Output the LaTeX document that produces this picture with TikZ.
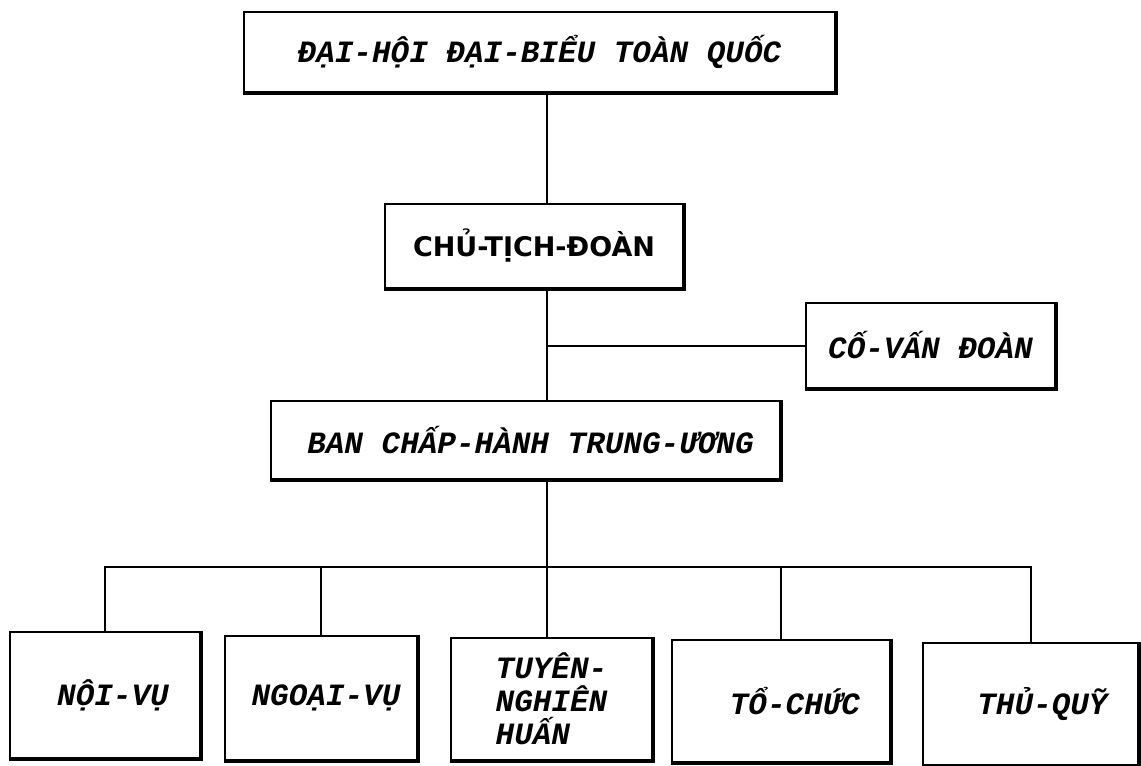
\documentclass[tikz,border=0pt]{standalone}
\usepackage{fontspec}
\newfontfamily\twfont{Liberation Mono}
\newfontfamily\gothfont{DejaVu Sans}
\tikzset{
  box/.style={draw=black, line width=2pt, inner sep=0pt, align=center,
    font=\twfont\bfseries\itshape\fontsize{31}{33}\selectfont},
  gothbox/.style={box, font=\gothfont\bfseries\fontsize{27}{33}\selectfont},
  conn/.style={draw=black, line width=2pt},
  heavy/.style={draw=black, line width=3.6pt, line cap=rect},
}
\begin{document}
\begin{tikzpicture}[x=1pt,y=-1pt]
\fill[white] (0,0) rectangle (1141,766);
\useasboundingbox (0,0) rectangle (1141,766);

\node[box, minimum width=591pt, minimum height=80pt] (top) at (539.5,52) {ĐẠI-HỘI ĐẠI-BIỂU TOÀN QUỐC};
\node[gothbox, minimum width=298pt, minimum height=84pt] (ct) at (534,246) {CHỦ-TỊCH-ĐOÀN};
\node[box, minimum width=249pt, minimum height=85pt] (cv) at (930.5,345.5) {CỐ-VẤN ĐOÀN};
\node[box, minimum width=509pt, minimum height=78pt] (ban) at (525.5,440) {\hspace*{10pt}BAN CHẤP-HÀNH TRUNG-ƯƠNG};

\node[box, minimum width=190pt, minimum height=126pt] (noi) at (105,695) {\hspace*{16pt}NỘI-VỤ};
\node[box, minimum width=192pt, minimum height=124pt] (ngoai) at (321,698) {\hspace*{10pt}NGOẠI-VỤ};
\node[box, align=left, minimum width=201pt, minimum height=122pt] (tuyen) at (551.5,699) {TUYÊN-\\NGHIÊN\\HUẤN};
\node[box, minimum width=218pt, minimum height=122pt] (toc) at (781,701) {\hspace*{28pt}TỔ-CHỨC};
\node[box, minimum width=215pt, minimum height=122pt] (thu) at (1030.5,704) {\hspace*{24pt}THỦ-QUỸ};

\foreach \n in {top,ct,cv,ban,noi,ngoai,tuyen,toc,thu}
  \draw[heavy] ([xshift=2pt]\n.south west) -- (\n.south east) -- ([yshift=-2pt]\n.north east);

\coordinate (sp) at (547,0);
\coordinate (bus) at (547,567);

\draw[conn] (top.south -| sp) -- (ct.north -| sp);
\draw[conn] (ct.south -| sp) -- (ban.north -| sp);
\draw[conn] (cv.west -| sp) -- (cv.west);
\draw[conn] (ban.south -| sp) -- (bus);
\draw[conn] (noi.north) -- (noi.north |- bus) -- (thu.north |- bus) -- (thu.north);
\draw[conn] (ngoai.north |- bus) -- (ngoai.north);
\draw[conn] (bus) -- (tuyen.north -| bus);
\draw[conn] (toc.north |- bus) -- (toc.north);
\end{tikzpicture}
\end{document}
